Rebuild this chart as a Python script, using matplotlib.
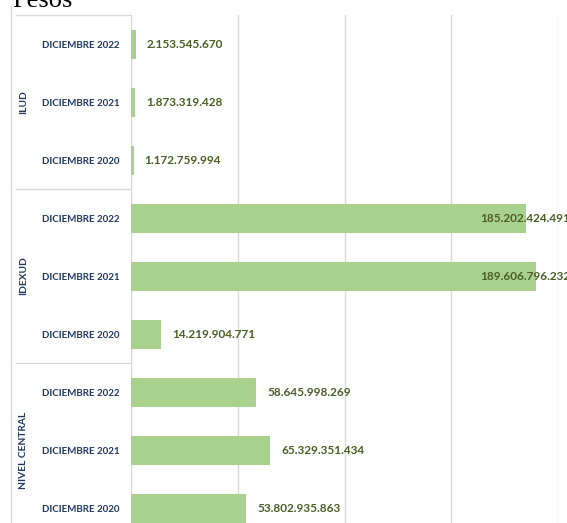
import matplotlib.pyplot as plt
import matplotlib.transforms as mtransforms

# Data (top to bottom as shown)
groups = ["ILUD", "IDEXUD", "NIVEL CENTRAL"]
periods = ["DICIEMBRE 2022", "DICIEMBRE 2021", "DICIEMBRE 2020"]
ilud = [2153545670, 1873319428, 1172759994]
idexud = [185202424491, 189606796232, 14219904771]
nivel_central = [58645998269, 65329351434, 53802935863]

values = ilud + idexud + nivel_central
labels = periods * len(groups)

bar_color = "#A9D18E"
label_color = "#4A5E24"
cat_color = "#1F3864"
grid_color = "#D9D9D9"

plt.rcParams['font.family'] = ['Lato', 'DejaVu Sans']

W, H = 567, 523
fig = plt.figure(figsize=(W / 100, H / 100), dpi=100)
# plot area continues below the visible picture (chart is cropped)
ax = fig.add_axes([131 / W, -14 / H, 427 / W, 522 / H])

y = list(range(len(values)))
ax.barh(y, values, height=0.5, color=bar_color, zorder=3)

xmax = 200e9
ax.set_xlim(0, xmax)
ax.set_ylim(len(values) - 0.5, -0.5)
ax.set_xticks([0, 50e9, 100e9, 150e9, 200e9])
ax.xaxis.grid(True, color=grid_color, linewidth=1, zorder=0)
ax.tick_params(axis='x', length=0, labelbottom=False)
ax.tick_params(axis='y', length=0, pad=8)
ax.set_yticks(y)
ax.set_yticklabels(labels, fontsize=7, fontweight='bold', color=cat_color)
for s in ["top", "right", "bottom"]:
    ax.spines[s].set_visible(False)
ax.spines["left"].set_color(grid_color)

# value labels
for yi, v in zip(y, values):
    txt = f"{v:,}".replace(",", ".")
    if v > 0.8 * xmax:
        ax.annotate(txt, (xmax, yi), xytext=(9, 0), textcoords="offset points",
                    ha='right', va='center', fontsize=8.5, fontweight='bold',
                    color=label_color, annotation_clip=False, zorder=4)
    else:
        ax.annotate(txt, (v, yi), xytext=(8, 0), textcoords="offset points",
                    ha='left', va='center', fontsize=8.5, fontweight='bold',
                    color=label_color, annotation_clip=False, zorder=4)

# multi-level category axis: group labels and separators
trans = mtransforms.blended_transform_factory(fig.transFigure, ax.transData)
n = len(periods)
for gi, g in enumerate(groups):
    center = gi * n + (n - 1) / 2
    ax.text(24 / W, center, g, transform=trans, rotation=90, ha='center',
            va='center', fontsize=7.3, fontweight='bold', color=cat_color)
for b in range(len(groups) + 1):
    yb = b * n - 0.5
    ax.add_line(plt.Line2D([16 / W, 130 / W], [yb, yb], transform=trans,
                           color=grid_color, linewidth=1, clip_on=False))
ax.add_line(plt.Line2D([11 / W, 11 / W], [-0.65, len(values) - 0.5],
                       transform=trans, color=grid_color, linewidth=1,
                       clip_on=False))

fig.text(12 / W, 1 - 7 / H, "Pesos", fontsize=19, family='Liberation Serif',
         va='baseline', ha='left', color='black')

fig.savefig("out.png", dpi=100)
